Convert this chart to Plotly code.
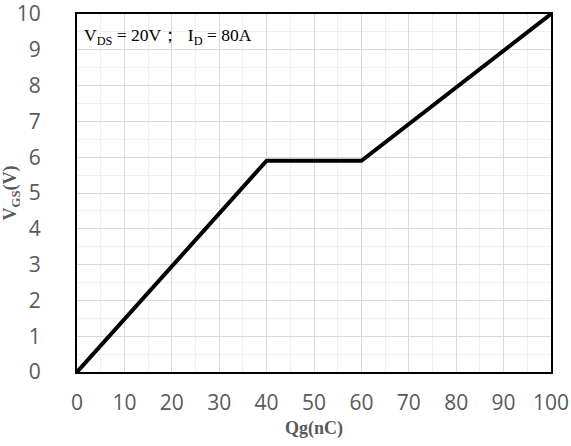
import plotly.graph_objects as go

qg = [0, 40, 60, 100]
vgs = [0, 5.9, 5.9, 10]
x_ticks = [0, 10, 20, 30, 40, 50, 60, 70, 80, 90, 100]
y_ticks = [0, 1, 2, 3, 4, 5, 6, 7, 8, 9, 10]

fig = go.Figure()
fig.add_trace(go.Scatter(x=qg, y=vgs, mode="lines",
                         line=dict(color="black", width=4), cliponaxis=False,
                         showlegend=False))

tickfont = dict(family="Open Sans", size=21, color="#595959")
titlefont = dict(family="Liberation Serif", size=18, color="#595959")
fig.update_layout(
    width=571, height=446,
    margin=dict(l=77, r=20, t=14, b=74, autoexpand=False),
    paper_bgcolor="white", plot_bgcolor="white",
    xaxis=dict(range=[0, 100], tickvals=x_ticks, ticks="outside", ticklen=11,
               tickcolor="rgba(0,0,0,0)", tickfont=tickfont, automargin=False,
               ticklabeloverflow="allow",
               showgrid=True, gridcolor="#d9d9d9", gridwidth=1,
               minor=dict(dtick=5, showgrid=True, gridcolor="#f0f0f0", gridwidth=1),
               showline=True, linecolor="black", linewidth=2, mirror=True,
               zeroline=False,
               title=dict(text="<b>Qg(nC)</b>", standoff=6, font=titlefont)),
    yaxis=dict(range=[0, 10], tickvals=y_ticks, ticks="outside", ticklen=30,
               tickcolor="rgba(0,0,0,0)", tickfont=tickfont, automargin=False,
               ticklabeloverflow="allow",
               showgrid=True, gridcolor="#d9d9d9", gridwidth=1,
               minor=dict(dtick=0.5, showgrid=True, gridcolor="#f0f0f0", gridwidth=1),
               showline=True, linecolor="black", linewidth=2, mirror=True,
               zeroline=False,
               title=dict(text="<b>V<sub>GS</sub>(V)</b>", standoff=6, font=titlefont)),
    annotations=[dict(text="V<sub>DS</sub> = 20V；  I<sub>D</sub> = 80A",
                      x=0.01, y=0.975, xref="paper", yref="paper",
                      xanchor="left", yanchor="top", showarrow=False,
                      font=dict(family="Liberation Serif", size=17.5, color="black"))],
)
fig.write_html("out.html", config={"displayModeBar": False},
               post_script="document.body.style.margin='0';document.body.style.overflow='hidden';")
